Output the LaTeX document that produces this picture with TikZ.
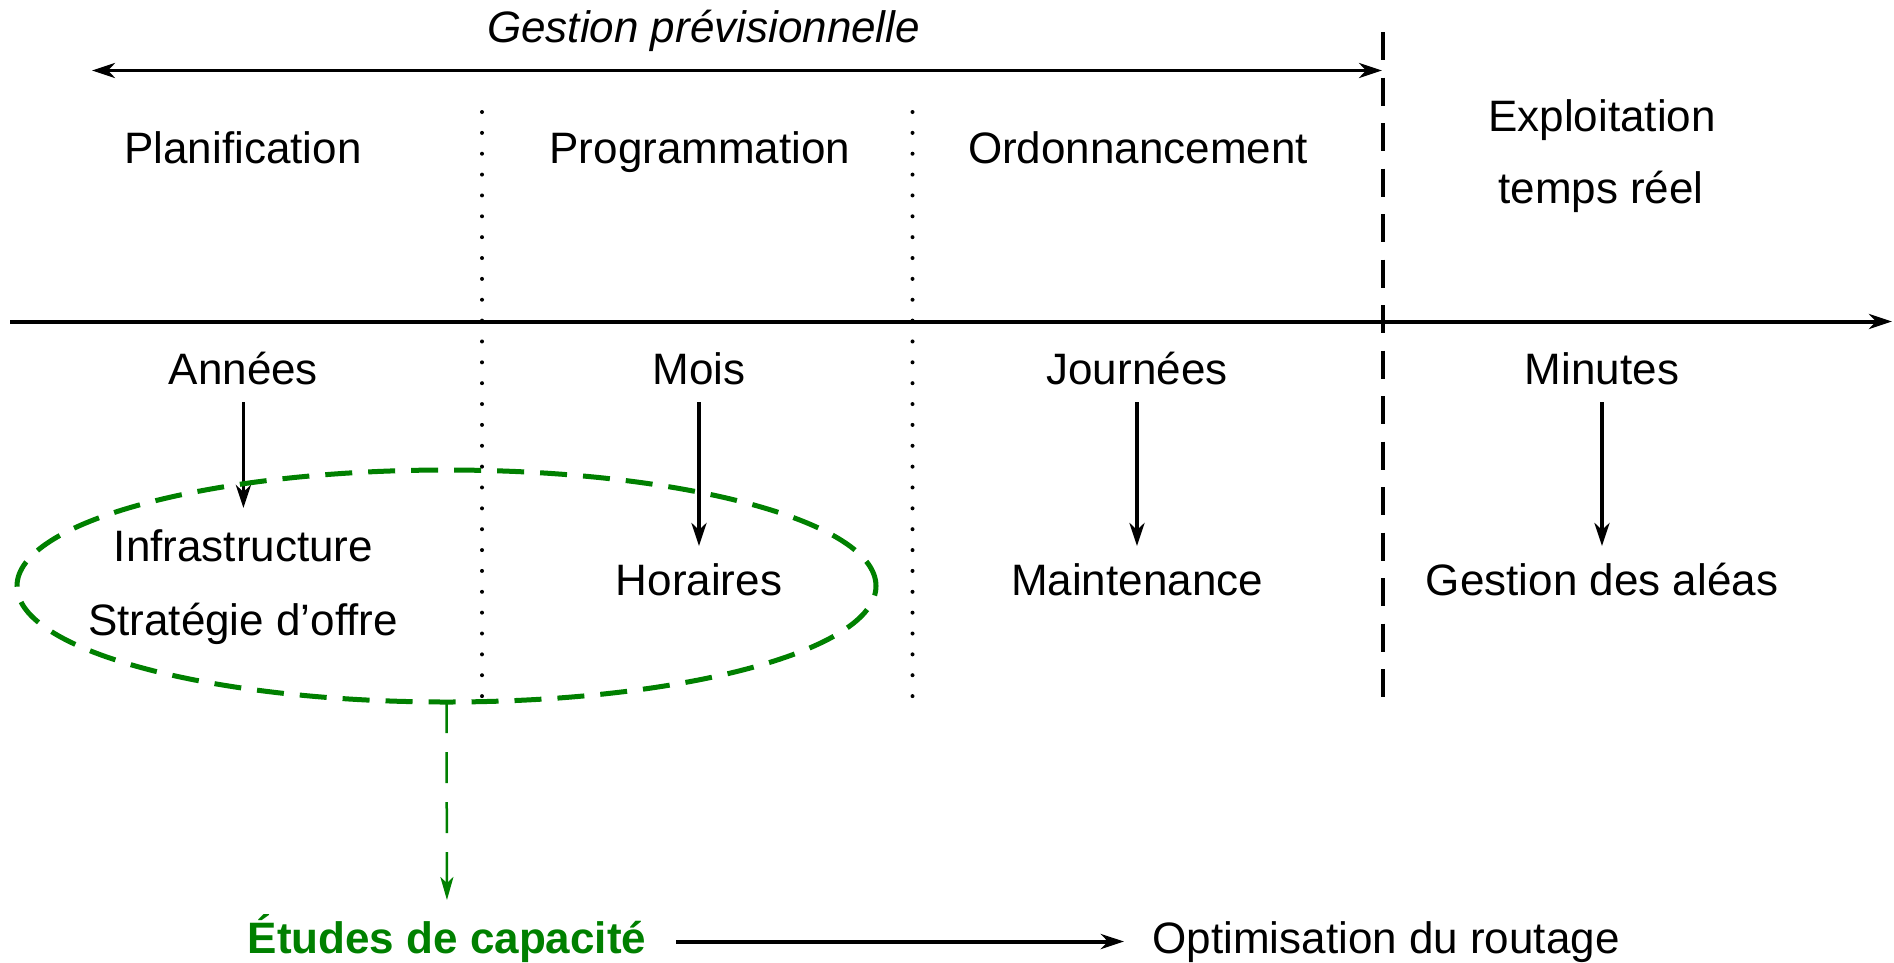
\documentclass[tikz,border=0pt]{standalone}
\usepackage{fontspec}
\setmainfont{Liberation Sans}
\usetikzlibrary{arrows.meta,shapes.geometric}
\definecolor{grn}{RGB}{0,128,0}
\tikzset{
  lbl/.style={font=\fontsize{44}{52}\selectfont, inner sep=0pt, outer sep=0pt,
              text height=32pt, text depth=9pt, anchor=base},
  tip/.style={-{Stealth[length=23pt,width=15pt,inset=7pt]}},
  conn/.style={tip, line width=3.8pt},
  sep/.style={line width=4pt, dash pattern=on 0pt off 20.86pt, line cap=round},
  bigdash/.style={line width=4.3pt, dash pattern=on 28pt off 17.5pt},
}
\begin{document}
\begin{tikzpicture}[x=1pt,y=-1pt]
\useasboundingbox (0,0) rectangle (1894,962);

% horizon label and arrow
\node[lbl,font=\fontsize{44}{52}\selectfont\itshape] (gp) at (703.6,42) {Gestion prévisionnelle};
\coordinate (gpl) at (92,70.5);
\coordinate (gpr) at (1382,70.5);
\draw[line width=3.5pt,{Stealth[length=23pt,width=15pt,inset=7pt]}-{Stealth[length=23pt,width=15pt,inset=7pt]}] (gpl) -- (gpr);

% separators
\coordinate (s1t) at (482,112); \coordinate (s1b) at (482,697);
\coordinate (s2t) at (912.5,112); \coordinate (s2b) at (912.5,697);
\draw[sep] (s1t) -- (s1b);
\draw[sep] (s2t) -- (s2b);
\coordinate (dt) at (1383,32); \coordinate (db) at (1383,697);
\draw[bigdash] (dt) -- (db);

% time axis
\coordinate (axl) at (10,321.5);
\coordinate (axr) at (1892,321.5);
\draw[tip, line width=4pt] (axl) -- (axr);

% column headers
\node[lbl] (plan) at (243,163) {Planification};
\node[lbl] (prog) at (700,163) {Programmation};
\node[lbl] (ordo) at (1138,163) {Ordonnancement};
\node[lbl] (expl1) at (1602,131) {Exploitation};
\node[lbl] (expl2) at (1601,203) {temps réel};

% horizons
\node[lbl] (annees) at (243.4,384) {Années};
\node[lbl] (mois) at (699,384) {Mois};
\node[lbl] (journ) at (1137,384) {Journées};
\node[lbl] (minu) at (1602,384) {Minutes};

% activities
\node[lbl] (infra) at (243.4,561) {Infrastructure};
\node[lbl] (strat) at (243,635) {Stratégie d’offre};
\node[lbl] (hor) at (699,595) {Horaires};
\node[lbl] (maint) at (1137,595) {Maintenance};
\node[lbl] (alea) at (1602,595) {Gestion des aléas};

\draw[conn, shorten <=9pt, shorten >=21pt] (annees.south) -- (infra.north);
\draw[conn, shorten <=9pt, shorten >=17pt] (mois.south) -- (hor.north);
\draw[conn, shorten <=9pt, shorten >=17pt] (journ.south) -- (maint.north);
\draw[conn, shorten <=9pt, shorten >=17pt] (minu.south) -- (alea.north);

% green group
\node[draw=grn, ellipse, minimum width=859pt, minimum height=232pt, inner sep=0pt,
      outer sep=0pt, line width=5pt, dash pattern=on 27pt off 16pt] (grp) at (446.5,586) {};

\node[lbl, text=grn, font=\fontsize{44}{52}\selectfont\bfseries] (etudes) at (447,953) {Études de capacité};
\node[lbl] (optim) at (1386,953) {Optimisation du routage};

\draw[grn, line width=2.5pt, dash pattern=on 31pt off 19pt,
      -{Stealth[length=23pt,width=13pt,inset=6pt]}, shorten >=21pt] (grp.south) -- (etudes.north);
\draw[conn, line width=4pt, shorten <=30pt, shorten >=28.5pt] (etudes.east) -- (optim.west);
\end{tikzpicture}
\end{document}
